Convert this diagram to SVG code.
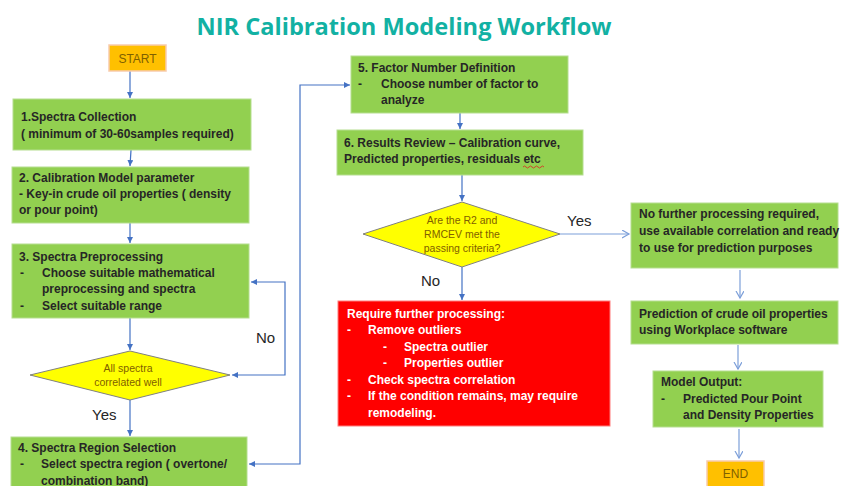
<svg xmlns="http://www.w3.org/2000/svg" width="841" height="486" viewBox="0 0 841 486">
<defs>
<marker id="arr" markerUnits="userSpaceOnUse" markerWidth="8" markerHeight="8" refX="6" refY="3" orient="auto-start-reverse"><path d="M0,0 L6,3 L0,6 z" fill="#4472C4"/></marker>
<marker id="open" markerUnits="userSpaceOnUse" markerWidth="10" markerHeight="10" refX="7" refY="4" orient="auto"><path d="M0,0 L7,4 L0,8" fill="none" stroke="#7C9FD9" stroke-width="1.2"/></marker>
<style>
.g{fill:#92D050;stroke:#B5DE8F;stroke-width:1}
.y{fill:#FFC000;stroke:#F8CBAD;stroke-width:1.5}
.d{fill:#FFFF00;stroke:#808080;stroke-width:1}
.r{fill:#FF0000;stroke:#FF7C7C;stroke-width:1}
.t{font-family:"Liberation Sans",Arial,sans-serif;font-size:12px;font-weight:bold;fill:#262626}
.w{font-family:"Liberation Sans",Arial,sans-serif;font-size:12px;font-weight:bold;fill:#FFFFFF}
.s{font-family:"Liberation Sans",Arial,sans-serif;font-size:12px;fill:#7F6000}
.dt{font-family:"Liberation Sans",Arial,sans-serif;font-size:10.5px;fill:#7F6000}
.l{font-family:"Liberation Sans",Arial,sans-serif;font-size:15px;fill:#262626}
.c{fill:none;stroke:#4472C4;stroke-width:1.2}
.co{fill:none;stroke:#7C9FD9;stroke-width:1.2}
</style>
</defs>
<rect width="841" height="486" fill="#FFFFFF"/>
<text x="404" y="35" text-anchor="middle" font-family="'Open Sans','Liberation Sans',sans-serif" font-size="23" font-weight="bold" fill="#12B1A3" textLength="415" lengthAdjust="spacingAndGlyphs">NIR Calibration Modeling Workflow</text>

<g id="connectors">
<line class="c" x1="130" y1="71" x2="130" y2="98" marker-end="url(#arr)"/>
<line class="c" x1="131" y1="150" x2="130" y2="166" marker-end="url(#arr)"/>
<line class="c" x1="130" y1="223" x2="130" y2="243" marker-end="url(#arr)"/>
<line class="c" x1="130" y1="318" x2="130" y2="350" marker-end="url(#arr)"/>
<path class="c" d="M232,375 L285,375 L285,282 L251,282" marker-start="url(#arr)" marker-end="url(#arr)"/>
<line class="c" x1="130" y1="400" x2="130" y2="436" marker-end="url(#arr)"/>
<path class="c" d="M249,464 L300,464 L300,85 L350,85" marker-start="url(#arr)" marker-end="url(#arr)"/>
<line class="c" x1="460" y1="113" x2="460" y2="129" marker-end="url(#arr)"/>
<line class="c" x1="462" y1="175" x2="462" y2="201" marker-end="url(#arr)"/>
<line class="co" x1="560" y1="234" x2="629" y2="234" marker-end="url(#open)"/>
<line class="c" x1="462" y1="267" x2="462" y2="300" marker-end="url(#arr)"/>
<line class="co" x1="740" y1="270" x2="740" y2="298" marker-end="url(#open)"/>
<line class="co" x1="738" y1="345" x2="738" y2="369" marker-end="url(#open)"/>
<line class="co" x1="739" y1="429" x2="739" y2="458" marker-end="url(#open)"/>
<text class="l" x="256" y="343">No</text>
<text class="l" x="92" y="420">Yes</text>
<text class="l" x="567" y="226">Yes</text>
<text class="l" x="421" y="286">No</text>
</g>

<g id="start">
<rect class="y" x="109" y="45" width="57" height="26"/>
<text class="s" x="137.5" y="63" text-anchor="middle">START</text>
</g>

<g id="step1">
<rect class="g" x="13" y="99" width="238" height="51"/>
<text class="t" x="21" y="121">1.Spectra Collection</text>
<text class="t" x="21" y="138">( minimum of 30-60samples required)</text>
</g>

<g id="step2">
<rect class="g" x="12" y="167" width="237" height="56"/>
<text class="t" x="19" y="182">2. Calibration Model parameter</text>
<text class="t" x="19" y="198">- Key-in crude oil properties ( density</text>
<text class="t" x="19" y="214">or pour point)</text>
</g>

<g id="step3">
<rect class="g" x="12" y="244" width="237" height="74"/>
<text class="t" x="19" y="261">3. Spectra Preprocessing</text>
<text class="t" x="20" y="277">-</text>
<text class="t" x="42" y="277">Choose suitable mathematical</text>
<text class="t" x="42" y="293">preprocessing and spectra</text>
<text class="t" x="20" y="310">-</text>
<text class="t" x="42" y="310">Select suitable range</text>
</g>

<g id="decision1">
<polygon class="d" points="30,375 130,351 230,375 130,400"/>
<text class="dt" x="128" y="372" text-anchor="middle">All spectra</text>
<text class="dt" x="128" y="386" text-anchor="middle">correlated well</text>
</g>

<g id="step4">
<rect class="g" x="11" y="437" width="236" height="60"/>
<text class="t" x="18" y="452">4. Spectra Region Selection</text>
<text class="t" x="20" y="468">-</text>
<text class="t" x="41" y="468">Select spectra region ( overtone/</text>
<text class="t" x="41" y="485">combination band)</text>
</g>

<g id="step5">
<rect class="g" x="351" y="56" width="217" height="57"/>
<text class="t" x="358" y="72">5. Factor Number Definition</text>
<text class="t" x="358" y="88">-</text>
<text class="t" x="381" y="88">Choose number of factor to</text>
<text class="t" x="381" y="104">analyze</text>
</g>

<g id="step6">
<rect class="g" x="337" y="130" width="246" height="45"/>
<text class="t" x="344" y="147">6. Results Review – Calibration curve,</text>
<text class="t" x="344" y="163">Predicted properties, residuals etc</text>
<path d="M523,167 q1.5,-2 3,0 t3,0 t3,0 t3,0 t3,0 t3,0 t3,0" fill="none" stroke="#E02020" stroke-width="0.8"/>
</g>

<g id="decision2">
<polygon class="d" points="363,234 462,202 560,234 462,267"/>
<text class="dt" x="462" y="224" text-anchor="middle">Are the R2 and</text>
<text class="dt" x="462" y="238" text-anchor="middle">RMCEV met the</text>
<text class="dt" x="462" y="252" text-anchor="middle">passing criteria?</text>
</g>

<g id="further">
<rect class="r" x="338" y="301" width="272" height="125"/>
<text class="w" x="347" y="318">Require further processing:</text>
<text class="w" x="347" y="334">-</text>
<text class="w" x="368" y="334">Remove outliers</text>
<text class="w" x="383" y="351">-</text>
<text class="w" x="404" y="351">Spectra outlier</text>
<text class="w" x="383" y="367">-</text>
<text class="w" x="404" y="367">Properties outlier</text>
<text class="w" x="347" y="384">-</text>
<text class="w" x="368" y="384">Check spectra correlation</text>
<text class="w" x="347" y="400">-</text>
<text class="w" x="368" y="400">If the condition remains, may require</text>
<text class="w" x="368" y="417">remodeling.</text>
</g>

<g id="noFurther">
<rect class="g" x="631" y="203" width="207" height="65"/>
<text class="t" x="639" y="218">No further processing required,</text>
<text class="t" x="639" y="235">use available correlation and ready</text>
<text class="t" x="639" y="252">to use for prediction purposes</text>
</g>

<g id="prediction">
<rect class="g" x="631" y="301" width="207" height="43"/>
<text class="t" x="639" y="318">Prediction of crude oil properties</text>
<text class="t" x="639" y="334">using Workplace software</text>
</g>

<g id="output">
<rect class="g" x="653" y="371" width="170" height="56"/>
<text class="t" x="661" y="386">Model Output:</text>
<text class="t" x="661" y="403">-</text>
<text class="t" x="683" y="403">Predicted Pour Point</text>
<text class="t" x="683" y="419">and Density Properties</text>
</g>

<g id="end">
<rect class="y" x="707" y="461" width="57" height="30"/>
<text class="s" x="735.5" y="478" text-anchor="middle">END</text>
</g>
</svg>
